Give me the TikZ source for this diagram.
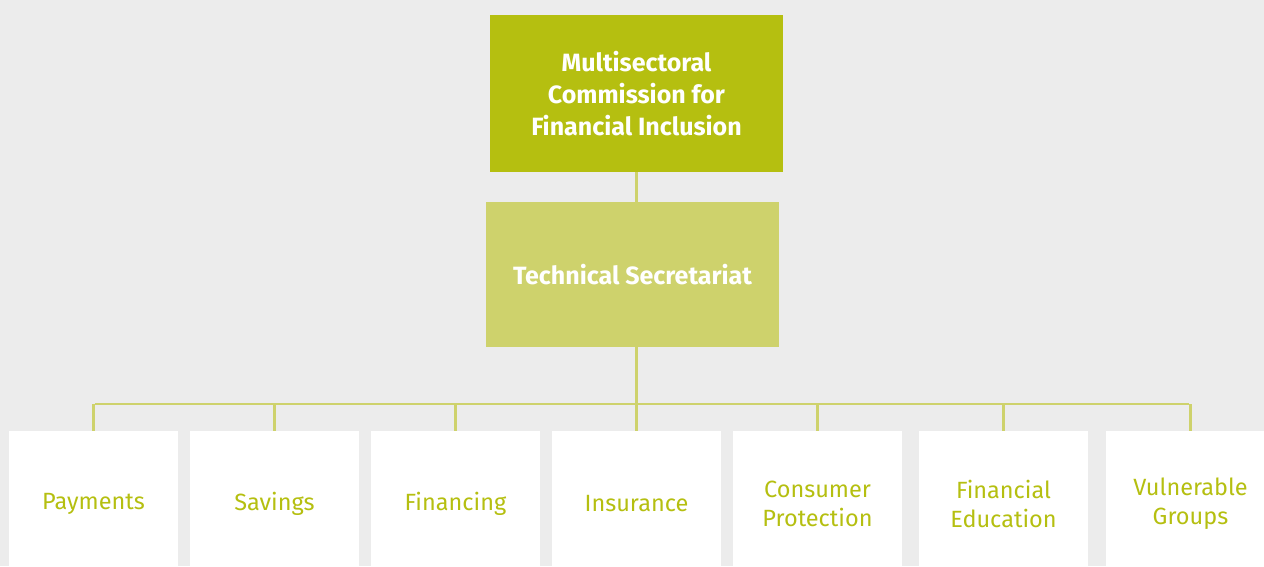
\documentclass[tikz,border=0pt]{standalone}
\usepackage{fontspec}
\setmainfont{Fira Sans}
\usepackage{xcolor}
\usetikzlibrary{positioning}
\definecolor{mcfiGreen}{HTML}{B5BF10}
\definecolor{mcfiLight}{HTML}{CED26C}
\definecolor{mcfiBack}{HTML}{ECECEC}

\begin{document}
\begin{tikzpicture}[x=1pt,y=-1pt,
    commission/.style={fill=mcfiGreen,text=white,align=center,inner sep=0pt,
        font=\bfseries\fontsize{25}{32}\selectfont,minimum width=293pt,minimum height=157pt},
    secretariat/.style={commission,fill=mcfiLight,minimum height=145pt},
    group/.style={fill=white,text=mcfiGreen,align=center,inner sep=0pt,
        font=\fontsize{23.5}{29}\selectfont,minimum width=169pt,minimum height=146pt},
    link/.style={draw=mcfiLight,line width=2.5pt}]
\fill[mcfiBack] (0,0) rectangle (1264,566);
\useasboundingbox (0,0) rectangle (1264,566);
\clip (0,0) rectangle (1264,566);
\node[commission] (msc) at (636.5,93.5) {Multisectoral\\Commission for\\Financial Inclusion};
\node[secretariat] (ts) at (632.5,274.5) {Technical Secretariat};
\node[group] (pay) at (93.5,504) {Payments};
\node[group] (sav) at (274.5,504) {Savings};
\node[group] (fin) at (455.5,504) {Financing};
\node[group] (ins) at (636.5,504) {Insurance};
\node[group] (cons) at (817.5,504) {Consumer\\Protection};
\node[group] (edu) at (1003.5,504) {Financial\\Education};
\node[group] (vul) at (1190.5,504) {Vulnerable\\Groups};
\coordinate (busl) at (95,404);
\coordinate (busr) at (1189,404);
% main line
\draw[link] (msc.south) -- (msc.south |- ts.north);
\draw[link] (ts.south -| msc.south) -- (msc.south |- busl);
\draw[link] (busl) -- (busr);
% drops to groups
\foreach \g in {pay,sav,fin,ins,cons,edu,vul}
  \draw[link] (\g.north |- busl) -- (\g.north);
\end{tikzpicture}
\end{document}
